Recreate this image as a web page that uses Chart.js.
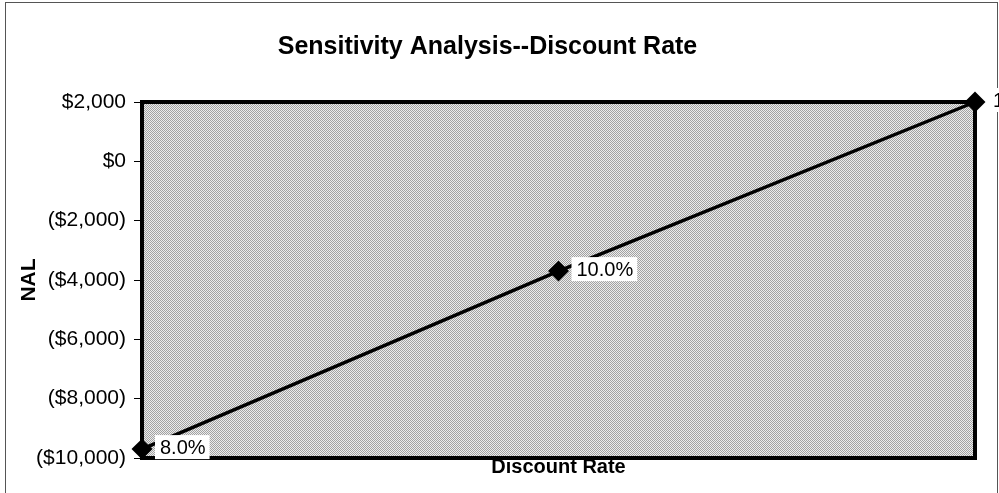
<!DOCTYPE html>
<html>
<head>
<meta charset="utf-8">
<script src="https://cdn.jsdelivr.net/npm/chart.js@4"></script>
<style>
  html, body { margin: 0; padding: 0; background: #fff; }
  #wrap { width: 999px; height: 493px; }
</style>
</head>
<body>
<div id="wrap"><canvas id="sensChart" width="999" height="493"></canvas></div>
<script>
// data
var rates = [8, 10, 12];
var rateLabels = ['8.0%', '10.0%', '12.0%'];
var nal = [-9700, -3700, 2000];
var yTickValues = [2000, 0, -2000, -4000, -6000, -8000, -10000];
var yTickLabels = ['$2,000', '$0', '($2,000)', '($4,000)', '($6,000)', '($8,000)', '($10,000)'];

var FONT = "'Liberation Sans', Arial, sans-serif";

// dithered grey fill for the plot area
function makePattern(ctx) {
  var c = document.createElement('canvas');
  c.width = 2; c.height = 2;
  var p = c.getContext('2d');
  p.fillStyle = '#ececec'; p.fillRect(0, 0, 2, 2);
  p.fillStyle = '#a2a2a2'; p.fillRect(0, 0, 1, 1); p.fillRect(1, 1, 1, 1);
  return ctx.createPattern(c, 'repeat');
}

var framePlugin = {
  id: 'frame',
  beforeDraw: function (chart) {
    var ctx = chart.ctx, a = chart.chartArea;
    ctx.save();
    ctx.fillStyle = '#fff';
    ctx.fillRect(0, 0, chart.width, chart.height);
    // outer frame
    ctx.strokeStyle = '#555';
    ctx.lineWidth = 1;
    ctx.strokeRect(5.5, 2.5, 992, 500);
    // plot area
    ctx.fillStyle = makePattern(ctx);
    ctx.fillRect(a.left, a.top, a.right - a.left, a.bottom - a.top);
    ctx.strokeStyle = '#000';
    ctx.lineWidth = 4;
    ctx.strokeRect(a.left, a.top, a.right - a.left, a.bottom - a.top);
    ctx.restore();
  },
  afterDatasetsDraw: function (chart) {
    var ctx = chart.ctx;
    var meta = chart.getDatasetMeta(0);
    ctx.save();
    ctx.font = '20px ' + FONT;
    ctx.textBaseline = 'middle';
    meta.data.forEach(function (pt, i) {
      var txt = rateLabels[i];
      var x = pt.x + 18, y = pt.y - 2;
      var w = ctx.measureText(txt).width;
      ctx.fillStyle = '#fff';
      ctx.fillRect(x - 5, y - 12, w + 9, 24);
      ctx.fillStyle = '#000';
      ctx.fillText(txt, x, y + 1);
    });
    ctx.restore();
  }
};

var ctx = document.getElementById('sensChart').getContext('2d');
var sensChart = new Chart(ctx, {
  type: 'line',
  data: {
    datasets: [{
      data: rates.map(function (r, i) { return { x: r, y: nal[i] }; }),
      borderColor: '#000',
      borderWidth: 3.5,
      pointStyle: 'rectRot',
      pointRadius: 8,
      pointBackgroundColor: '#000',
      pointBorderColor: '#000',
      clip: false,
      tension: 0
    }]
  },
  options: {
    responsive: false,
    animation: false,
    layout: { padding: { left: 0, right: 24, top: 0, bottom: 17 } },
    plugins: {
      legend: { display: false },
      tooltip: { enabled: false },
      title: {
        display: true,
        text: 'Sensitivity Analysis--Discount Rate',
        color: '#000',
        font: { family: FONT, size: 25, weight: 'bold' },
        padding: { top: 32, bottom: 40 }
      }
    },
    scales: {
      x: {
        type: 'linear',
        min: rates[0],
        max: rates[rates.length - 1],
        ticks: { display: false },
        grid: { display: false, drawTicks: false },
        border: { display: false },
        title: {
          display: true,
          text: 'Discount Rate',
          color: '#000',
          font: { family: FONT, size: 20, weight: 'bold', lineHeight: 0.9 },
          padding: { top: 0, bottom: 0 }
        }
      },
      y: {
        min: -10000,
        max: 2000,
        afterBuildTicks: function (scale) {
          scale.ticks = yTickValues.map(function (v) { return { value: v }; });
        },
        afterFit: function (scale) { scale.width = 142; },
        ticks: {
          color: '#000',
          font: { family: FONT, size: 21 },
          padding: 8,
          callback: function (v) {
            var i = yTickValues.indexOf(v);
            return i >= 0 ? yTickLabels[i] : '';
          }
        },
        grid: { drawOnChartArea: false, drawTicks: true, tickLength: 8, color: '#000' },
        border: { display: false },
        title: {
          display: true,
          text: 'NAL',
          color: '#000',
          font: { family: FONT, size: 21, weight: 'bold' },
          padding: { top: 17, bottom: 0 }
        }
      }
    }
  },
  plugins: [framePlugin]
});
</script>
</body>
</html>
